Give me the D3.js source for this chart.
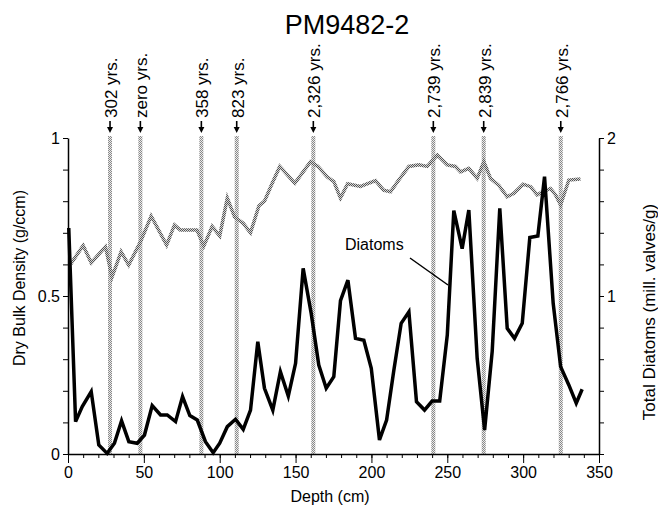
<!DOCTYPE html>
<html>
<head>
<meta charset="utf-8">
<script src="https://cdn.jsdelivr.net/npm/d3@7"></script>
<style>
  body { margin: 0; background: #fff; }
  svg { display: block; font-family: "Liberation Sans", Arial, Helvetica, sans-serif; }
</style>
</head>
<body>
<div id="chart"></div>
<script>
// Dry bulk density (g/ccm), left axis
var densityDepth = [1.6, 10, 15.3, 24.7, 29, 35, 40, 47.8, 54.8, 65, 70.2, 74, 85, 89.5, 95, 100, 105, 109.8, 115.5, 120.3, 125.8, 129.5, 134.6, 139.6, 149.5, 159.9, 164.7, 170.9, 175.2, 179.6, 184.3, 192.8, 202.7, 208, 212.6, 218, 224.7, 231.3, 236.8, 243.4, 250, 255.4, 258.7, 264.2, 269.7, 274.1, 278.5, 284, 289.5, 293.9, 300, 304.9, 309.3, 312.6, 318, 321.4, 324.7, 330.1, 337.8];
var densityValue = [0.60, 0.66, 0.605, 0.656, 0.56, 0.64, 0.598, 0.672, 0.753, 0.661, 0.725, 0.709, 0.709, 0.658, 0.72, 0.69, 0.81, 0.75, 0.73, 0.70, 0.785, 0.80, 0.857, 0.91, 0.857, 0.925, 0.91, 0.877, 0.862, 0.81, 0.855, 0.847, 0.865, 0.835, 0.83, 0.867, 0.91, 0.915, 0.91, 0.946, 0.915, 0.91, 0.893, 0.904, 0.872, 0.925, 0.872, 0.85, 0.814, 0.825, 0.854, 0.846, 0.82, 0.83, 0.84, 0.82, 0.788, 0.867, 0.87];

// Total diatoms (mill. valves/g), right axis
var diatomDepth = [0.5, 5, 9.4, 15.3, 20.3, 25.8, 30.6, 35.3, 40.1, 45.6, 50.4, 55.5, 61, 65.4, 70.9, 75.5, 80.3, 85.2, 90.6, 95.7, 100, 105, 110.4, 115.5, 120.3, 125.1, 129.5, 135, 140, 145.2, 150, 155, 160.3, 165.3, 170.2, 175.2, 179.6, 184.5, 189.5, 195, 199.9, 205.3, 210, 214.8, 219.6, 224.7, 229.7, 235, 240, 245, 250, 254.3, 259.8, 264.2, 269.7, 274.6, 279.6, 284.6, 289.5, 294.3, 299.4, 304.4, 309.7, 314.1, 319.8, 324.7, 330.1, 335, 338.9];
var diatomValue = [1.43, 0.205, 0.30, 0.395, 0.057, 0.004, 0.068, 0.21, 0.078, 0.068, 0.12, 0.306, 0.247, 0.247, 0.205, 0.363, 0.243, 0.215, 0.078, 0.008, 0.068, 0.173, 0.22, 0.156, 0.278, 0.711, 0.416, 0.278, 0.521, 0.367, 0.574, 1.175, 0.89, 0.563, 0.416, 0.489, 0.97, 1.10, 0.732, 0.72, 0.542, 0.089, 0.215, 0.532, 0.827, 0.90, 0.331, 0.278, 0.335, 0.335, 0.753, 1.54, 1.30, 1.544, 0.606, 0.152, 0.65, 1.555, 0.795, 0.732, 0.827, 1.37, 1.38, 1.755, 0.954, 0.553, 0.437, 0.321, 0.41];

// Dated horizons
var dateDepth = [27.7, 47.7, 87.9, 111.2, 161.7, 240.8, 274, 324.8];
var dateLabel = ["302 yrs.", "zero yrs.", "358 yrs.", "823 yrs.", "2,326 yrs.", "2,739 yrs.", "2,839 yrs.", "2,766 yrs."];

var xTicks = [0, 50, 100, 150, 200, 250, 300, 350];
var leftTickLabels = [0, 0.5, 1];
var rightTickLabels = [1, 2];

var width = 658, height = 505;
var margin = {top: 138, left: 68, bottom: 51, right: 59};

var svg = d3.select("#chart").append("svg")
    .attr("width", width)
    .attr("height", height);

var x = d3.scaleLinear().domain([0, 350]).range([margin.left, width - margin.right]);
var yL = d3.scaleLinear().domain([0, 1]).range([height - margin.bottom, margin.top]);
var yR = d3.scaleLinear().domain([0, 2]).range([height - margin.bottom, margin.top]);

// stipple patterns
var defs = svg.append("defs");
var band = defs.append("pattern").attr("id", "band")
    .attr("patternUnits", "userSpaceOnUse").attr("width", 2).attr("height", 2);
band.append("rect").attr("width", 2).attr("height", 2).attr("fill", "#ebebeb");
band.append("rect").attr("width", 1).attr("height", 1).attr("fill", "#888");
band.append("rect").attr("x", 1).attr("y", 1).attr("width", 1).attr("height", 1).attr("fill", "#888");

var dots = defs.append("pattern").attr("id", "dots")
    .attr("patternUnits", "userSpaceOnUse").attr("width", 2).attr("height", 2);
dots.append("rect").attr("width", 2).attr("height", 2).attr("fill", "#d8d8d8");
dots.append("rect").attr("width", 1).attr("height", 1).attr("fill", "#555");
dots.append("rect").attr("x", 1).attr("y", 1).attr("width", 1).attr("height", 1).attr("fill", "#555");

// Title
svg.append("text")
    .attr("x", 347).attr("y", 34)
    .attr("text-anchor", "middle")
    .attr("font-size", 27)
    .text("PM9482-2");

// Date bands
svg.append("g").selectAll("rect")
    .data(dateDepth)
    .enter().append("rect")
    .attr("x", function (d) { return x(d) - 2; })
    .attr("y", 136)
    .attr("width", 4)
    .attr("height", yL(0) - 136)
    .attr("fill", "url(#band)");

// Date arrows and labels
var dates = svg.append("g").selectAll("g")
    .data(dateDepth)
    .enter().append("g");
dates.append("line")
    .attr("x1", function (d) { return x(d); })
    .attr("x2", function (d) { return x(d); })
    .attr("y1", 121).attr("y2", 129)
    .attr("stroke", "black").attr("stroke-width", 1.6);
dates.append("path")
    .attr("d", function (d) { var px = x(d); return "M" + (px - 3) + ",127L" + (px + 3) + ",127L" + px + ",133Z"; })
    .attr("fill", "black");
dates.append("text")
    .attr("transform", function (d) { return "translate(" + (x(d) + 1) + ",118) rotate(-90)"; })
    .attr("dy", "0.35em")
    .attr("font-size", 17)
    .text(function (d, i) { return dateLabel[i]; });

// Axes
svg.append("g")
    .attr("transform", "translate(0," + yL(0) + ")")
    .call(d3.axisBottom(x).tickValues(d3.range(0, 351, 10)).tickSize(4).tickSizeOuter(0).tickFormat(""))
    .call(function (g) { g.select(".domain").attr("stroke-width", 1.5); });
svg.append("g")
    .attr("transform", "translate(0," + yL(0) + ")")
    .call(d3.axisBottom(x).tickValues(xTicks).tickSize(9).tickSizeOuter(0).tickPadding(4))
    .call(function (g) { g.select(".domain").remove(); g.selectAll("text").attr("font-size", 16).attr("font-family", null).attr("fill", "black"); });

svg.append("g")
    .attr("transform", "translate(" + x(0) + ",0)")
    .call(d3.axisLeft(yL).tickValues(d3.range(0, 1.01, 0.1)).tickSize(5).tickSizeOuter(0)
        .tickFormat(function (d) { var r = Math.round(d * 10) / 10; return leftTickLabels.indexOf(r) >= 0 ? d3.format("")(r) : ""; }))
    .call(function (g) { g.select(".domain").attr("stroke-width", 1.5); g.selectAll("text").attr("font-size", 16).attr("font-family", null).attr("fill", "black"); });

svg.append("g")
    .attr("transform", "translate(" + x(350) + ",0)")
    .call(d3.axisRight(yR).tickValues(d3.range(0, 2.01, 0.2)).tickSize(5).tickSizeOuter(0)
        .tickFormat(function (d) { var r = Math.round(d * 10) / 10; return rightTickLabels.indexOf(r) >= 0 ? d3.format("")(r) : ""; }))
    .call(function (g) { g.select(".domain").attr("stroke-width", 1.5); g.selectAll("text").attr("font-size", 16).attr("font-family", null).attr("fill", "black"); });

// Axis titles
svg.append("text")
    .attr("x", 330).attr("y", 502)
    .attr("text-anchor", "middle")
    .attr("font-size", 16)
    .text("Depth (cm)");
svg.append("text")
    .attr("transform", "translate(19,278) rotate(-90)")
    .attr("dy", "0.35em")
    .attr("text-anchor", "middle")
    .attr("font-size", 16)
    .text("Dry Bulk Density (g/ccm)");
svg.append("text")
    .attr("transform", "translate(649,312) rotate(-90)")
    .attr("dy", "0.35em")
    .attr("text-anchor", "middle")
    .attr("font-size", 17)
    .text("Total Diatoms (mill. valves/g)");

// Density line
var densityLine = d3.line()
    .x(function (d, i) { return x(densityDepth[i]); })
    .y(function (d) { return yL(d); });
svg.append("path")
    .datum(densityValue)
    .attr("d", densityLine)
    .attr("fill", "none")
    .attr("stroke", "url(#dots)")
    .attr("stroke-width", 3.5)
    .attr("stroke-linejoin", "miter");

// Diatom line
var diatomLine = d3.line()
    .x(function (d, i) { return x(diatomDepth[i]); })
    .y(function (d) { return yR(d); });
svg.append("path")
    .datum(diatomValue)
    .attr("d", diatomLine)
    .attr("fill", "none")
    .attr("stroke", "black")
    .attr("stroke-width", 3.5)
    .attr("stroke-linejoin", "miter");

// Diatoms label with leader
svg.append("text")
    .attr("x", 345).attr("y", 250)
    .attr("font-size", 16)
    .text("Diatoms");
svg.append("line")
    .attr("x1", 410).attr("y1", 258)
    .attr("x2", 448).attr("y2", 285)
    .attr("stroke", "black").attr("stroke-width", 1.5);
</script>
</body>
</html>
